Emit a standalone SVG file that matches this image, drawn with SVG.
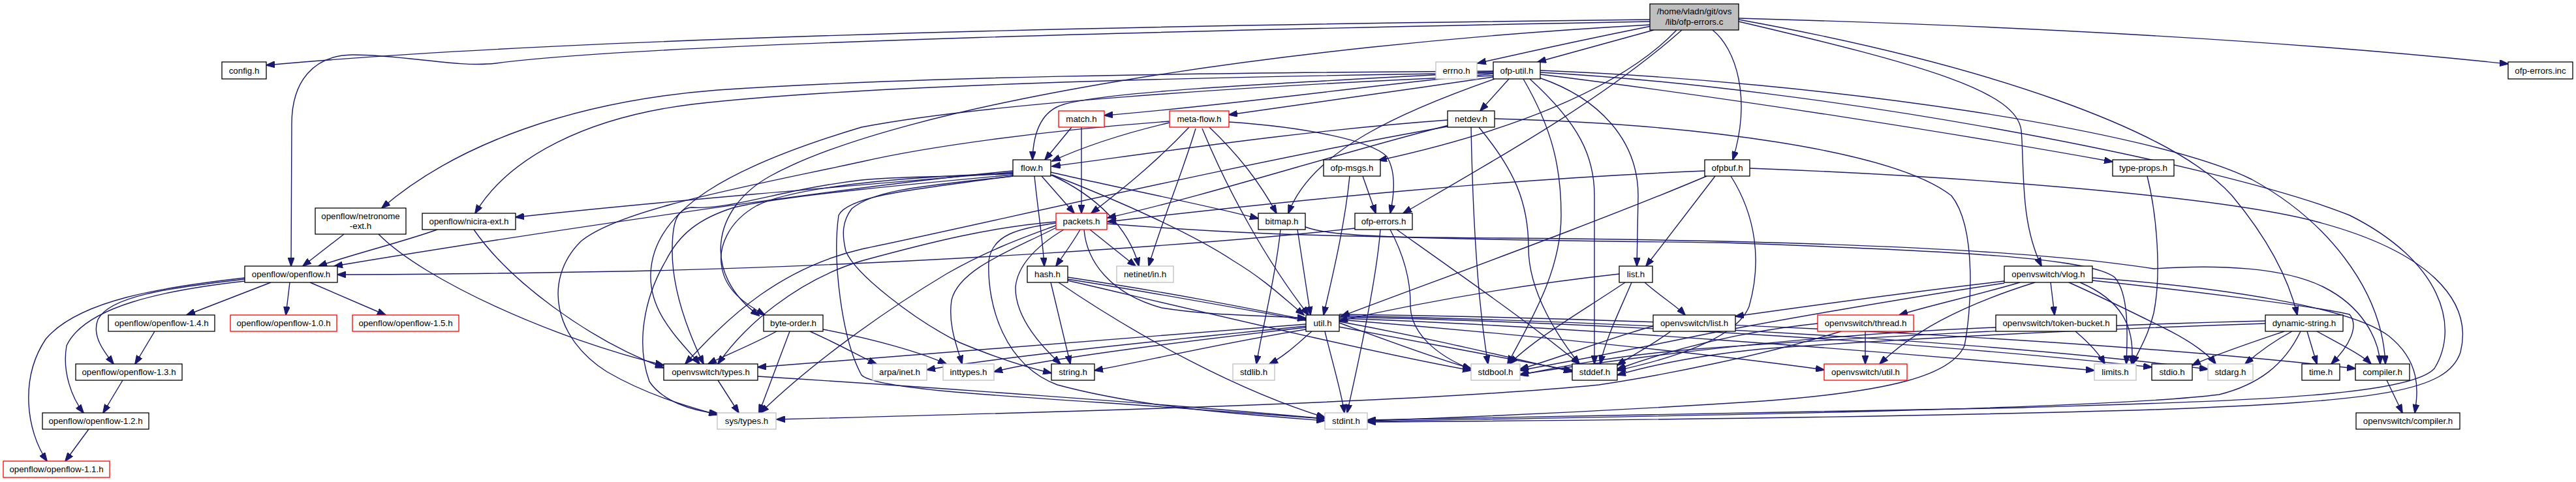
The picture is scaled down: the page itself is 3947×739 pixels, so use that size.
<svg xmlns="http://www.w3.org/2000/svg" width="3947" height="739" viewBox="0 0 3947 739">
<style>
.n rect{fill:#fff;stroke:#000;stroke-width:1.3}
.n.g rect{stroke:#bfbfbf}
.n.r rect{stroke:#ff0000}
.n.top rect{fill:#bfbfbf}
text{font-family:"Liberation Sans",Arial,sans-serif;font-size:13.3px;text-anchor:middle;fill:#000}
#edges path{fill:none;stroke:#191970;stroke-width:1.4;marker-end:url(#a)}
</style>
<defs>
<marker id="a" markerWidth="14" markerHeight="10" refX="13" refY="5" orient="auto" markerUnits="userSpaceOnUse"><path d="M0,0 L14,5 L0,10 z" fill="#191970" stroke="#191970" stroke-width="1"/></marker>
</defs>
<rect width="3947" height="739" fill="#fff"/>
<g id="edges">
<path d="M2528,30 C1800,38 900,55 408,100"/>
<path d="M2530,40 C2420,62 2330,82 2264,97"/>
<path d="M2534,46 C2470,64 2410,80 2356,95"/>
<path d="M2664,28 C3100,40 3500,62 3843,98"/>
<path d="M2528,33 C1900,45 1000,65 760,97 C700,104 620,84 540,84 C480,85 447,125 447,190 L446,408"/>
<path d="M2528,38 C1950,70 1380,160 1180,270 C1090,320 1075,420 1163,484"/>
<path d="M2577,46 C2460,150 2300,240 2150,327"/>
<path d="M2569,46 C2480,140 2300,205 2112,246"/>
<path d="M2624,46 C2660,75 2684,150 2655,245"/>
<path d="M2664,33 C2950,100 3090,140 3097,200 C3102,260 3095,340 3128,408"/>
<path d="M2664,30 C3050,100 3330,200 3420,300 C3470,360 3505,420 3520,483"/>
<path d="M2288,113 C2100,130 1900,160 1692,177"/>
<path d="M2288,118 C2150,138 2000,160 1883,176"/>
<path d="M2312,121 L2268,170"/>
<path d="M2288,110 C1950,128 1700,140 1630,160 C1595,170 1583,205 1582,245"/>
<path d="M2360,114 C2650,150 3000,205 3237,248"/>
<path d="M2360,108 C2800,125 3300,200 3450,275 C3560,335 3650,440 3655,558"/>
<path d="M2360,111 C2800,135 3400,250 3600,330 C3740,400 3770,500 3730,565 C3690,610 3400,615 3100,625 C2700,635 2300,642 2095,644"/>
<path d="M2358,119 C2450,150 2510,215 2510,300 L2508,408"/>
<path d="M2334,121 C2380,200 2392,260 2392,330 C2392,420 2340,500 2310,558"/>
<path d="M2344,121 C2420,190 2443,240 2443,300 L2443,558"/>
<path d="M2290,121 C2150,170 2010,230 1974,327"/>
<path d="M2288,109 C1800,112 1400,118 1100,138 C880,155 700,220 585,319"/>
<path d="M2288,112 C1800,118 1300,132 1060,160 C900,180 780,240 728,327"/>
<path d="M2288,116 C1900,132 1500,160 1320,195 C1120,255 1000,320 997,420 C995,480 1040,520 1072,558"/>
<path d="M1642,195 L1601,245"/>
<path d="M1657,195 L1657,327"/>
<path d="M1792,188 C1720,205 1660,225 1612,247"/>
<path d="M1822,195 C1770,250 1720,290 1672,327"/>
<path d="M1832,197 C1810,270 1780,340 1760,408"/>
<path d="M1842,197 C1880,290 1940,400 2005,483"/>
<path d="M1853,195 C1900,240 1930,280 1956,327"/>
<path d="M1883,187 C2000,195 2100,215 2125,240 C2140,265 2136,300 2130,327"/>
<path d="M1792,186 C1600,200 1420,225 1320,248 C1150,285 950,320 890,370 C830,430 850,520 930,570 C990,605 1050,622 1099,636"/>
<path d="M2218,184 C2000,200 1800,230 1612,255"/>
<path d="M2220,192 C2050,235 1850,300 1697,334"/>
<path d="M2218,194 C1900,250 1500,345 1320,382 C1200,410 1120,480 1050,558"/>
<path d="M2254,195 C2256,300 2262,450 2280,558"/>
<path d="M2266,195 C2320,260 2342,310 2342,380 C2342,450 2390,520 2420,558"/>
<path d="M2290,182 C2600,190 2900,230 2990,300 C3030,350 3020,480 3010,530 C2990,575 2900,600 2700,615 C2500,628 2300,638 2095,645"/>
<path d="M1552,262 C1300,285 800,360 512,408"/>
<path d="M1552,264 C1300,285 1000,310 790,333"/>
<path d="M1552,266 C1450,272 1380,270 1320,276 C1200,290 1120,322 1060,318 C1035,320 1030,345 1030,385 C1030,440 1050,500 1078,558"/>
<path d="M1552,266 C1400,270 1220,285 1160,315 C1115,340 1100,380 1106,410 C1112,445 1140,465 1172,483"/>
<path d="M1552,268 C1420,280 1200,300 1125,318 C1070,335 1040,360 1020,400 C985,460 975,530 995,585 C1015,615 1060,630 1100,634"/>
<path d="M1552,270 C1420,285 1340,290 1305,320 C1290,340 1290,360 1296,385 C1310,420 1400,490 1470,525 C1530,550 1580,565 1611,572"/>
<path d="M1552,270 C1400,290 1300,300 1285,330 C1275,400 1290,520 1320,575 C1340,595 1500,605 1700,618 C1850,628 1950,636 2030,642"/>
<path d="M1596,270 L1646,327"/>
<path d="M1585,270 C1590,320 1598,370 1600,408"/>
<path d="M1610,264 C1700,285 1850,315 1928,335"/>
<path d="M1610,268 C1680,300 1730,350 1745,408"/>
<path d="M1612,268 C1720,310 1830,360 1890,400 C1940,430 1970,460 1998,483"/>
<path d="M1655,352 C1645,370 1630,390 1618,408"/>
<path d="M1670,352 L1740,408"/>
<path d="M1630,352 C1600,370 1560,400 1556,440 C1555,490 1600,535 1625,558"/>
<path d="M1620,348 C1560,380 1470,410 1458,460 C1452,500 1468,535 1474,558"/>
<path d="M1620,345 C1580,360 1520,380 1450,420 C1350,480 1240,560 1165,633"/>
<path d="M1618,342 C1560,350 1520,360 1515,400 C1512,470 1540,560 1620,590 C1750,625 1900,635 2030,645"/>
<path d="M1618,340 C1520,348 1430,370 1320,400 C1220,430 1140,500 1100,558"/>
<path d="M1661,352 C1665,400 1700,450 1780,472 C1860,485 1940,483 2001,488"/>
<path d="M1696,343 C1850,355 1980,363 2300,365 C2700,368 3100,380 3300,412 C3400,405 3500,410 3560,440 C3620,470 3645,520 3647,558"/>
<path d="M2000,348 C2040,362 2100,366 2640,372 C3000,385 3200,395 3240,425 C3262,450 3260,510 3258,558"/>
<path d="M1962,352 C1955,420 1935,500 1925,558"/>
<path d="M1988,352 L2008,483"/>
<path d="M2076,350 C1850,375 1400,405 1000,415 C800,419 650,421 517,421"/>
<path d="M2115,352 C2110,420 2085,540 2064,633"/>
<path d="M2130,352 C2145,380 2162,420 2161,470 C2162,510 2200,545 2254,566"/>
<path d="M2140,352 C2250,430 2350,500 2420,558"/>
<path d="M2088,270 L2108,327"/>
<path d="M2068,270 C2060,350 2040,430 2028,483"/>
<path d="M2481,420 C2300,440 2150,470 2052,492"/>
<path d="M2490,433 C2420,480 2350,520 2313,558"/>
<path d="M2500,433 C2480,480 2460,520 2452,558"/>
<path d="M2520,433 C2545,455 2570,470 2582,483"/>
<path d="M3071,431 C2950,445 2800,465 2659,485"/>
<path d="M3071,434 C2900,460 2700,495 2600,515 C2480,540 2400,555 2329,568"/>
<path d="M3095,433 C3020,455 2950,470 2910,483"/>
<path d="M3118,433 C3000,470 2930,510 2880,558"/>
<path d="M3142,433 L3148,483"/>
<path d="M3187,433 C3250,460 3272,500 3266,558"/>
<path d="M3170,433 C3230,460 3280,485 3320,505 C3360,525 3385,545 3395,558"/>
<path d="M3206,430 C3350,445 3550,470 3600,482 C3615,500 3600,530 3572,558"/>
<path d="M3206,426 C3400,440 3600,470 3660,515 C3710,555 3705,600 3700,633"/>
<path d="M3180,508 C3200,525 3215,540 3225,558"/>
<path d="M3058,502 C2800,512 2550,540 2329,574"/>
<path d="M2858,508 L2858,558"/>
<path d="M2821,508 C2700,545 2550,575 2450,590 C2200,615 1700,630 1190,643"/>
<path d="M2785,496 C2650,510 2550,540 2478,566"/>
<path d="M2533,500 C2460,520 2400,545 2329,566"/>
<path d="M2560,508 C2530,530 2500,545 2478,560"/>
<path d="M1100,583 L1132,633"/>
<path d="M1161,577 C1400,592 1800,620 2030,642"/>
<path d="M1190,508 C1150,530 1110,545 1085,558"/>
<path d="M1210,508 L1163,633"/>
<path d="M1241,508 C1290,530 1320,548 1343,558"/>
<path d="M1261,505 C1340,520 1410,540 1450,558"/>
<path d="M2001,500 C1800,520 1550,545 1420,567"/>
<path d="M2001,502 C1800,525 1600,550 1523,570"/>
<path d="M2001,505 C1850,530 1750,555 1677,568"/>
<path d="M2001,497 C1700,520 1400,545 1161,563"/>
<path d="M2010,508 C1990,525 1970,545 1945,558"/>
<path d="M2030,508 C2040,550 2055,600 2060,633"/>
<path d="M2052,495 C2120,520 2200,550 2254,565"/>
<path d="M2052,493 C2200,520 2320,550 2409,570"/>
<path d="M2052,490 C2300,510 2600,540 2795,567"/>
<path d="M2052,488 C2400,500 2900,540 3209,568"/>
<path d="M2052,486 C2500,495 3000,530 3297,563"/>
<path d="M2052,484 C2600,495 3100,530 3383,566"/>
<path d="M2052,482 C2700,490 3300,530 3609,565"/>
<path d="M3471,492 C3200,498 2800,520 2600,535 C2480,545 2400,560 2329,575"/>
<path d="M3471,496 C3200,505 2900,520 2700,535 C2600,545 2530,560 2478,575"/>
<path d="M3500,508 C3450,525 3390,545 3359,560"/>
<path d="M3512,508 C3480,525 3455,545 3440,558"/>
<path d="M3525,508 C3500,560 3460,590 3400,605 C3200,630 2400,640 2095,646"/>
<path d="M3535,508 L3550,558"/>
<path d="M3550,508 C3590,530 3620,545 3633,558"/>
<path d="M3657,583 L3681,633"/>
<path d="M3290,270 C3305,330 3312,420 3300,480 C3290,520 3275,540 3268,558"/>
<path d="M415,433 L286,483"/>
<path d="M444,433 L438,483"/>
<path d="M475,433 L591,483"/>
<path d="M375,428 C280,440 170,450 150,490 C140,515 160,540 174,558"/>
<path d="M375,431 C250,445 130,470 102,530 C95,570 110,610 128,633"/>
<path d="M375,426 C250,440 120,460 70,520 C30,580 40,660 72,707"/>
<path d="M237,508 L207,558"/>
<path d="M188,583 L158,633"/>
<path d="M136,658 L100,707"/>
<path d="M527,359 L464,408"/>
<path d="M580,359 C650,430 850,520 1017,560"/>
<path d="M670,352 C620,370 540,390 488,408"/>
<path d="M726,352 C780,430 900,520 1017,564"/>
<path d="M2612,262 C2300,275 2000,305 1697,340"/>
<path d="M2615,270 C2450,340 2200,430 2055,485"/>
<path d="M2628,270 L2522,408"/>
<path d="M2652,270 C2690,330 2700,400 2680,470 C2660,520 2560,550 2478,568"/>
<path d="M2681,258 C3000,270 3400,300 3550,340 C3720,385 3790,460 3770,540 C3750,600 3650,615 3300,628 C2900,640 2400,645 2095,647"/>
<path d="M1636,425 C1800,450 1900,470 2001,490"/>
<path d="M1636,430 C1850,480 2100,540 2254,568"/>
<path d="M1636,428 C1900,470 2200,530 2409,568"/>
<path d="M1622,433 C1750,520 1900,600 2030,640"/>
<path d="M1610,433 L1640,558"/>
</g>
<g id="n_top" class="n top"><rect x="2528" y="6" width="136" height="40"/><text x="2596" y="22">/home/vladn/git/ovs</text><text x="2596" y="38">/lib/ofp-errors.c</text></g>
<g id="n_config" class="n"><rect x="340" y="95" width="68" height="26"/><text x="374" y="112.5">config.h</text></g>
<g id="n_errno" class="n g"><rect x="2200" y="95" width="63" height="26"/><text x="2231.5" y="112.5">errno.h</text></g>
<g id="n_ofputil" class="n"><rect x="2288" y="95" width="72" height="26"/><text x="2324" y="112.5">ofp-util.h</text></g>
<g id="n_inc" class="n"><rect x="3843" y="95" width="99" height="26"/><text x="3892.5" y="112.5">ofp-errors.inc</text></g>
<g id="n_match" class="n r"><rect x="1622" y="170" width="70" height="25"/><text x="1657" y="187">match.h</text></g>
<g id="n_metaflow" class="n r"><rect x="1792" y="170" width="91" height="25"/><text x="1837.5" y="187">meta-flow.h</text></g>
<g id="n_netdev" class="n"><rect x="2218" y="170" width="72" height="25"/><text x="2254" y="187">netdev.h</text></g>
<g id="n_flow" class="n"><rect x="1552" y="245" width="58" height="25"/><text x="1581" y="262">flow.h</text></g>
<g id="n_ofpmsgs" class="n"><rect x="2028" y="245" width="87" height="25"/><text x="2071.5" y="262">ofp-msgs.h</text></g>
<g id="n_ofpbuf" class="n"><rect x="2612" y="245" width="69" height="25"/><text x="2646.5" y="262">ofpbuf.h</text></g>
<g id="n_typeprops" class="n"><rect x="3237" y="245" width="94" height="25"/><text x="3284" y="262">type-props.h</text></g>
<g id="n_netronome" class="n"><rect x="483" y="319" width="139" height="40"/><text x="552.5" y="335.5">openflow/netronome</text><text x="552.5" y="351">-ext.h</text></g>
<g id="n_nicira" class="n"><rect x="647" y="327" width="143" height="25"/><text x="718.5" y="344">openflow/nicira-ext.h</text></g>
<g id="n_packets" class="n r"><rect x="1618" y="327" width="78" height="25"/><text x="1657" y="344">packets.h</text></g>
<g id="n_bitmap" class="n"><rect x="1928" y="327" width="72" height="25"/><text x="1964" y="344">bitmap.h</text></g>
<g id="n_ofperrors" class="n"><rect x="2076" y="327" width="88" height="25"/><text x="2120" y="344">ofp-errors.h</text></g>
<g id="n_openflow" class="n"><rect x="375" y="408" width="142" height="25"/><text x="446" y="425">openflow/openflow.h</text></g>
<g id="n_hash" class="n"><rect x="1574" y="408" width="62" height="25"/><text x="1605" y="425">hash.h</text></g>
<g id="n_netinet" class="n g"><rect x="1711" y="408" width="87" height="25"/><text x="1754.5" y="425">netinet/in.h</text></g>
<g id="n_list" class="n"><rect x="2481" y="408" width="51" height="25"/><text x="2506.5" y="425">list.h</text></g>
<g id="n_vlog" class="n"><rect x="3071" y="408" width="135" height="25"/><text x="3138.5" y="425">openvswitch/vlog.h</text></g>
<g id="n_of14" class="n"><rect x="166" y="483" width="163" height="25"/><text x="247.5" y="500">openflow/openflow-1.4.h</text></g>
<g id="n_of10" class="n r"><rect x="353" y="483" width="163" height="25"/><text x="434.5" y="500">openflow/openflow-1.0.h</text></g>
<g id="n_of15" class="n r"><rect x="540" y="483" width="163" height="25"/><text x="621.5" y="500">openflow/openflow-1.5.h</text></g>
<g id="n_byteorder" class="n"><rect x="1170" y="483" width="91" height="25"/><text x="1215.5" y="500">byte-order.h</text></g>
<g id="n_util" class="n"><rect x="2001" y="483" width="51" height="25"/><text x="2026.5" y="500">util.h</text></g>
<g id="n_ovslist" class="n"><rect x="2533" y="483" width="126" height="25"/><text x="2596" y="500">openvswitch/list.h</text></g>
<g id="n_thread" class="n r"><rect x="2785" y="483" width="147" height="25"/><text x="2858.5" y="500">openvswitch/thread.h</text></g>
<g id="n_tokenbucket" class="n"><rect x="3058" y="483" width="185" height="25"/><text x="3150.5" y="500">openvswitch/token-bucket.h</text></g>
<g id="n_dynstr" class="n"><rect x="3471" y="483" width="119" height="25"/><text x="3530.5" y="500">dynamic-string.h</text></g>
<g id="n_of13" class="n"><rect x="116" y="558" width="163" height="25"/><text x="197.5" y="575">openflow/openflow-1.3.h</text></g>
<g id="n_ovstypes" class="n"><rect x="1017" y="558" width="144" height="25"/><text x="1089" y="575">openvswitch/types.h</text></g>
<g id="n_arpainet" class="n g"><rect x="1337" y="558" width="83" height="25"/><text x="1378.5" y="575">arpa/inet.h</text></g>
<g id="n_inttypes" class="n g"><rect x="1445" y="558" width="78" height="25"/><text x="1484" y="575">inttypes.h</text></g>
<g id="n_string" class="n"><rect x="1611" y="558" width="66" height="25"/><text x="1644" y="575">string.h</text></g>
<g id="n_stdlib" class="n g"><rect x="1889" y="558" width="64" height="25"/><text x="1921" y="575">stdlib.h</text></g>
<g id="n_stdbool" class="n g"><rect x="2254" y="558" width="75" height="25"/><text x="2291.5" y="575">stdbool.h</text></g>
<g id="n_stddef" class="n"><rect x="2409" y="558" width="69" height="25"/><text x="2443.5" y="575">stddef.h</text></g>
<g id="n_ovsutil" class="n r"><rect x="2795" y="558" width="127" height="25"/><text x="2858.5" y="575">openvswitch/util.h</text></g>
<g id="n_limits" class="n g"><rect x="3209" y="558" width="64" height="25"/><text x="3241" y="575">limits.h</text></g>
<g id="n_stdio" class="n"><rect x="3297" y="558" width="62" height="25"/><text x="3328" y="575">stdio.h</text></g>
<g id="n_stdarg" class="n g"><rect x="3383" y="558" width="69" height="25"/><text x="3417.5" y="575">stdarg.h</text></g>
<g id="n_time" class="n"><rect x="3527" y="558" width="58" height="25"/><text x="3556" y="575">time.h</text></g>
<g id="n_compiler" class="n"><rect x="3609" y="558" width="83" height="25"/><text x="3650.5" y="575">compiler.h</text></g>
<g id="n_of12" class="n"><rect x="65" y="633" width="163" height="25"/><text x="146.5" y="650">openflow/openflow-1.2.h</text></g>
<g id="n_systypes" class="n g"><rect x="1099" y="633" width="90" height="25"/><text x="1144" y="650">sys/types.h</text></g>
<g id="n_stdint" class="n g"><rect x="2030" y="633" width="65" height="25"/><text x="2062.5" y="650">stdint.h</text></g>
<g id="n_ovscompiler" class="n"><rect x="3610" y="633" width="159" height="25"/><text x="3689.5" y="650">openvswitch/compiler.h</text></g>
<g id="n_of11" class="n r"><rect x="5" y="707" width="163" height="25"/><text x="86.5" y="724">openflow/openflow-1.1.h</text></g>
</svg>
